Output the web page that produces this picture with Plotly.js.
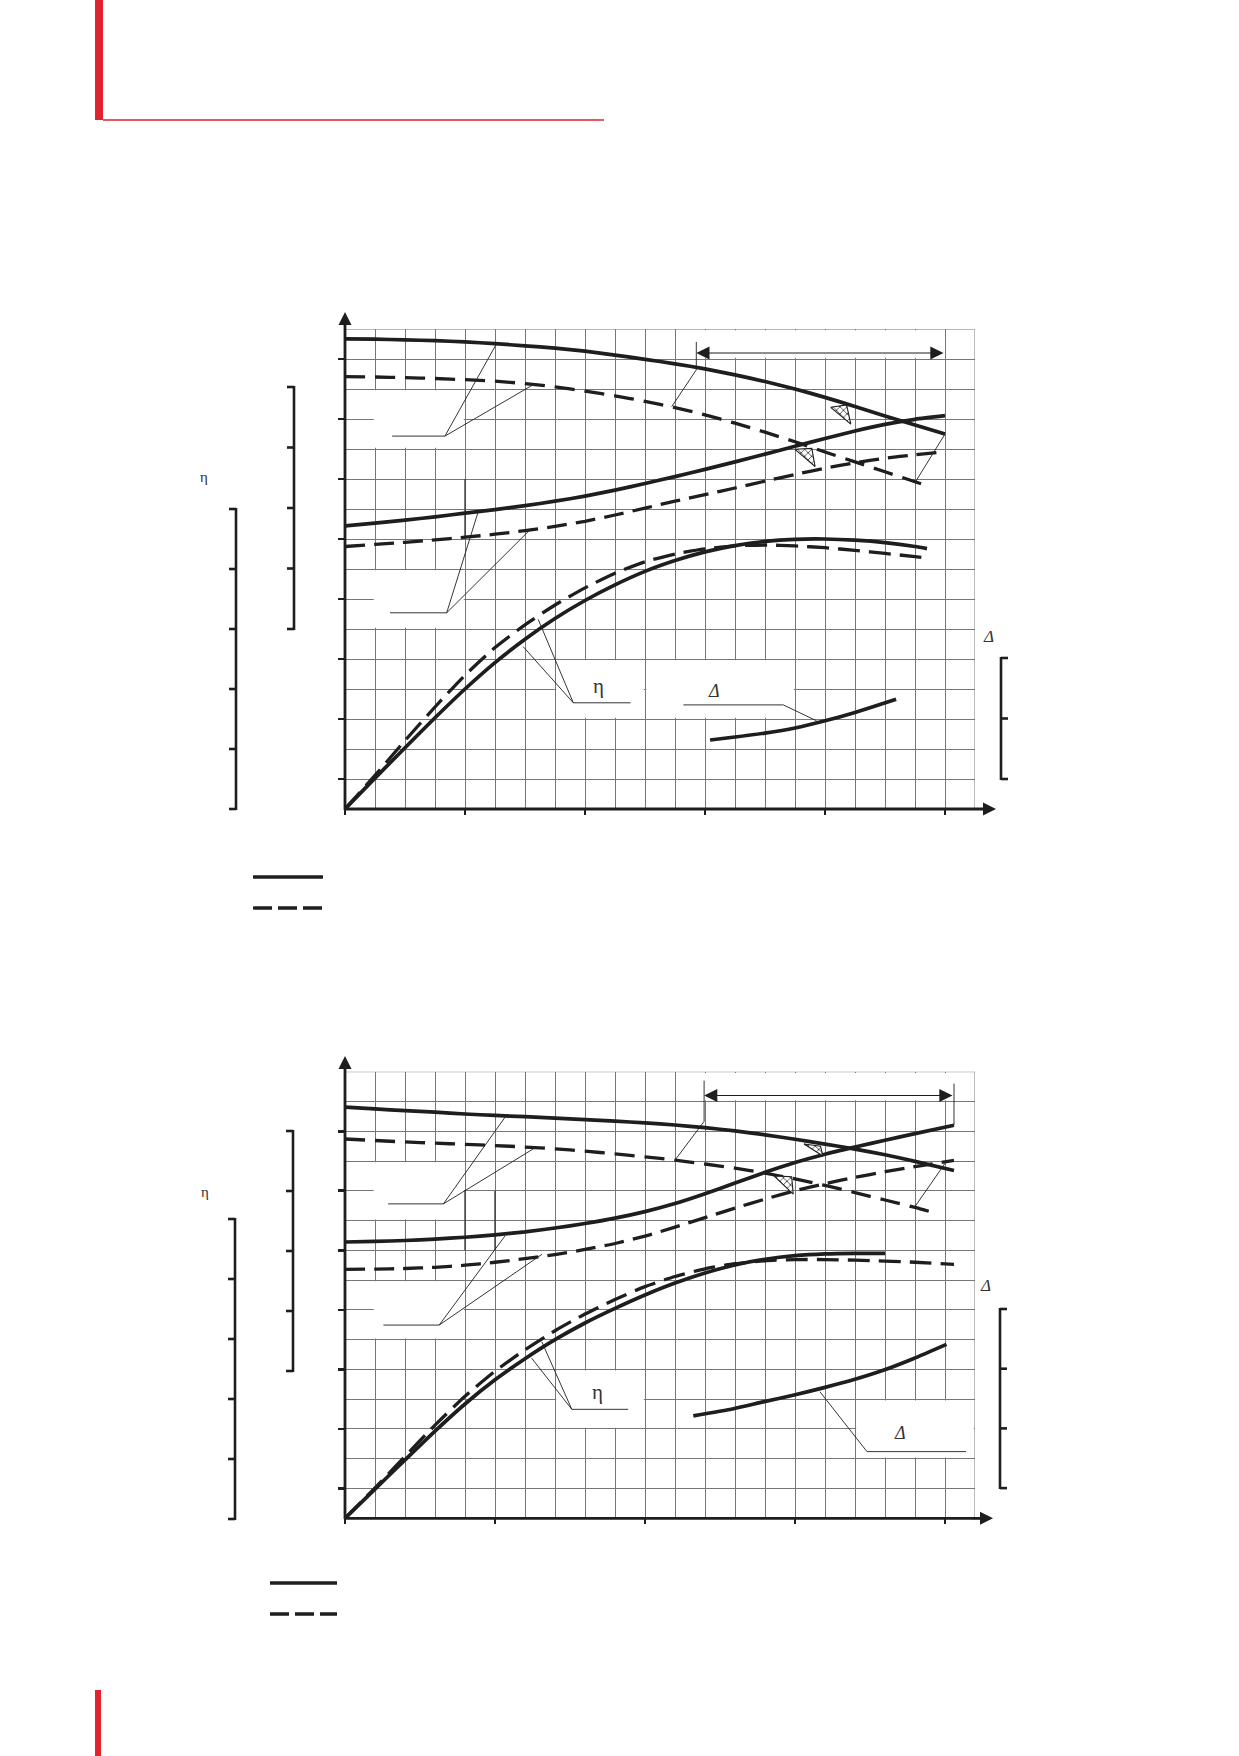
<!DOCTYPE html>
<html lang="ru">
<head>
<meta charset="utf-8">
<title>Характеристики насоса</title>
<script src="https://cdn.plot.ly/plotly-3.0.1.min.js"></script>
<style>
  html, body { margin: 0; padding: 0; background: #fff; }
  #chart { width: 1239px; height: 1756px; }
</style>
</head>
<body>
<div id="chart"></div>
<script>
// Константы
const CHART_ELEM_ID = "chart";
const PAGE_W = 1239;
const PAGE_H = 1756;
const INK = "#1e1e1e";
const GRID = "#767676";
const RED = "#e1232f";

// Данные (в клетках сетки: Q - по горизонтали, значение - по вертикали)

// Характеристика 1
const qH1a = [0, 1, 2, 3, 4, 5, 6, 7, 8, 9, 10, 11, 12, 13, 14, 15, 16, 17, 18, 19, 20];
const head1a = [15.67, 15.66, 15.64, 15.61, 15.57, 15.51, 15.44, 15.36, 15.26, 15.13, 14.99, 14.84, 14.67, 14.47, 14.25, 14.0, 13.72, 13.42, 13.1, 12.8, 12.5];
const qH1b = [0, 1, 2, 3, 4, 5, 6, 7, 8, 9, 10, 11, 12, 13, 14, 15, 16, 17, 18, 19, 19.5];
const head1b = [14.41, 14.4, 14.38, 14.35, 14.31, 14.26, 14.18, 14.07, 13.93, 13.77, 13.59, 13.38, 13.14, 12.86, 12.56, 12.24, 11.9, 11.57, 11.24, 10.91, 10.74];
const qN1 = [0, 1, 2, 3, 4, 5, 6, 7, 8, 9, 10, 11, 12, 13, 14, 15, 16, 17, 18, 19, 20];
const power1a = [9.44, 9.53, 9.63, 9.74, 9.86, 9.98, 10.11, 10.26, 10.43, 10.63, 10.85, 11.08, 11.32, 11.57, 11.83, 12.09, 12.35, 12.6, 12.82, 12.99, 13.11];
const power1b = [8.75, 8.82, 8.89, 8.97, 9.06, 9.16, 9.28, 9.42, 9.59, 9.8, 10.03, 10.26, 10.48, 10.7, 10.93, 11.15, 11.36, 11.54, 11.69, 11.81, 11.91];
const qE1 = [0, 1, 2, 3, 4, 5, 6, 7, 8, 9, 10, 11, 12, 13, 14, 15, 16, 17, 18, 19, 19.4];
const eff1a = [0, 1.03, 2.04, 3.04, 4.0, 4.88, 5.66, 6.35, 6.95, 7.47, 7.92, 8.28, 8.57, 8.78, 8.92, 8.99, 9.0, 8.96, 8.88, 8.75, 8.68];
const eff1b = [0, 1.12, 2.28, 3.4, 4.46, 5.38, 6.14, 6.8, 7.37, 7.86, 8.24, 8.5, 8.67, 8.77, 8.8, 8.77, 8.71, 8.62, 8.52, 8.41, 8.36];
const qD1 = [12.17, 13, 14, 15, 16, 17, 18.37];
const delta1 = [2.3, 2.4, 2.53, 2.7, 2.94, 3.22, 3.66];
const cavity1Q = [[16.19, 16.72, 16.86], [15.0, 15.56, 15.67]];
const cavity1H = [[13.39, 13.47, 12.83], [11.99, 12.02, 11.41]];

// Характеристика 2
const qH2a = [0, 1, 2, 3, 4, 5, 6, 7, 8, 9, 10, 11, 12, 13, 14, 15, 16, 17, 18, 19, 20.3];
const head2a = [13.81, 13.75, 13.69, 13.64, 13.58, 13.53, 13.49, 13.44, 13.39, 13.34, 13.28, 13.21, 13.12, 13.01, 12.88, 12.73, 12.57, 12.4, 12.21, 11.99, 11.68];
const qH2b = [0, 1, 2, 3, 4, 5, 6, 7, 8, 9, 10, 11, 12, 13, 14, 15, 16, 17, 18, 19, 19.64];
const head2b = [12.74, 12.69, 12.64, 12.6, 12.56, 12.52, 12.47, 12.41, 12.33, 12.24, 12.14, 12.03, 11.9, 11.76, 11.59, 11.4, 11.18, 10.94, 10.69, 10.44, 10.26];
const qN2 = [0, 1, 2, 3, 4, 5, 6, 7, 8, 9, 10, 11, 12, 13, 14, 15, 16, 17, 18, 19, 20.3];
const power2a = [9.28, 9.3, 9.33, 9.38, 9.44, 9.52, 9.62, 9.75, 9.9, 10.08, 10.3, 10.57, 10.9, 11.26, 11.62, 11.95, 12.23, 12.47, 12.7, 12.92, 13.2];
const power2b = [8.36, 8.37, 8.39, 8.43, 8.5, 8.6, 8.72, 8.86, 9.03, 9.23, 9.48, 9.78, 10.1, 10.42, 10.72, 11.0, 11.24, 11.45, 11.64, 11.81, 12.02];
const qE2a = [0, 1, 2, 3, 4, 5, 6, 7, 8, 9, 10, 11, 12, 13, 14, 15, 16, 17, 18];
const eff2a = [0, 0.98, 1.96, 2.93, 3.84, 4.65, 5.36, 6.0, 6.56, 7.05, 7.5, 7.9, 8.24, 8.51, 8.7, 8.82, 8.88, 8.9, 8.9];
const qE2b = [0, 1, 2, 3, 4, 5, 6, 7, 8, 9, 10, 11, 12, 13, 14, 15, 16, 17, 18, 19, 20.3];
const eff2b = [0, 1.02, 2.08, 3.13, 4.1, 4.94, 5.66, 6.3, 6.86, 7.35, 7.78, 8.12, 8.38, 8.55, 8.65, 8.69, 8.69, 8.67, 8.64, 8.6, 8.53];
const qD2 = [11.61, 12.95, 13.94, 14.97, 15.97, 16.97, 17.94, 18.94, 20.05];
const delta2 = [3.44, 3.68, 3.91, 4.14, 4.39, 4.66, 4.97, 5.36, 5.84];
const cavity2Q = [[15.3, 15.85, 15.93], [14.3, 14.89, 14.94]];
const cavity2H = [[12.57, 12.5, 12.17], [11.5, 11.47, 10.89]];

// Оформление: белые поля под подписи, выноски (в клетках сетки)
const blanks1 = [[0.96, 3.96, 12.04, 13.96], [0.96, 3.96, 6.04, 7.96], [7.04, 9.96, 3.04, 4.96], [10.04, 14.96, 3.04, 4.96], [11.04, 19.96, 15.04, 15.96]];
const blanks2 = [[0.96, 3.96, 10.04, 11.96], [0.96, 3.96, 6.04, 7.96], [7.04, 9.96, 3.04, 4.96], [17.04, 20.96, 2.04, 3.96], [11.04, 20.96, 14.04, 14.96]];
const darkLines1 = [[4, 9, 4, 11]];
const darkLines2 = [[4, 9, 4, 11], [5, 9, 5, 11]];
const leaders1 = [
  [[1.57, 12.43], [3.33, 12.43], [5.03, 15.47]],
  [[3.33, 12.43], [6.25, 14.13]],
  [[1.5, 6.54], [3.39, 6.54], [4.44, 9.91]],
  [[3.39, 6.54], [6.22, 9.36]],
  [[9.52, 3.54], [7.61, 3.54], [5.94, 5.41]],
  [[7.61, 3.54], [6.44, 6.32]],
  [[11.28, 3.47], [14.61, 3.47], [15.72, 2.94]],
  [[11.71, 15.57], [11.71, 14.64], [10.89, 13.41]],
  [[20, 12.5], [19, 10.88]],
];
const leaders2 = [
  [[1.44, 10.56], [3.28, 10.56], [5.39, 13.55]],
  [[3.28, 10.56], [6.28, 12.41]],
  [[1.28, 6.49], [3.14, 6.49], [5.33, 9.48]],
  [[3.14, 6.49], [6.57, 8.87]],
  [[9.44, 3.66], [7.56, 3.66], [6.22, 5.38]],
  [[7.56, 3.66], [6.56, 5.93]],
  [[20.7, 2.24], [17.4, 2.24], [15.83, 4.25]],
  [[11.97, 14.7], [11.97, 13.33], [11.0, 12.03]],
  [[20.3, 14.6], [20.3, 13.21]],
  [[20.0, 11.92], [19.0, 10.47]],
];

// Вспомогательные функции

/**
 * @description Пиксели страницы -> доли paper
 */
function pxX(x) {
  return x / PAGE_W;
}
function pxY(y) {
  return 1 - y / PAGE_H;
}

function paperLine(x0, y0, x1, y1, width, dash) {
  return {
    type: "line", xref: "paper", yref: "paper", layer: "above",
    x0: pxX(x0), y0: pxY(y0), x1: pxX(x1), y1: pxY(y1),
    line: { color: INK, width: width, dash: dash || "solid" },
  };
}

function paperRect(x0, y0, x1, y1, color) {
  return {
    type: "rect", xref: "paper", yref: "paper", layer: "above",
    x0: pxX(x0), y0: pxY(y0), x1: pxX(x1), y1: pxY(y1),
    fillcolor: color, line: { width: 0 },
  };
}

/**
 * @description Скобка шкалы с делениями (dir = -1 влево, 1 вправо)
 */
function bracket(x, yTop, yBottom, step, dir) {
  let res = [paperLine(x, yTop - 1, x, yBottom + 1, 2.6)];
  for (let y = yTop; y <= yBottom + 0.5; y += step) {
    res.push(paperLine(x, y, x + dir * 7, y, 2.6));
  }
  return res;
}

function blankRects(list, xr, yr) {
  return list.map((b) => ({
    type: "rect", xref: xr, yref: yr, layer: "between",
    x0: b[0], x1: b[1], y0: b[2], y1: b[3],
    fillcolor: "#ffffff", line: { width: 0 },
  }));
}

function dataLines(list, xr, yr, width, color) {
  return list.map((l) => ({
    type: "line", xref: xr, yref: yr, layer: "between",
    x0: l[0], y0: l[1], x1: l[2], y1: l[3],
    line: { color: color, width: width },
  }));
}

function leaderPaths(list, xr, yr) {
  return list.map((pts) => ({
    type: "path", xref: xr, yref: yr, layer: "above",
    path: pts.map((p, i) => (i === 0 ? "M" : "L") + p[0] + "," + p[1]).join(" "),
    line: { color: INK, width: 0.9 },
  }));
}

function curve(x, y, xa, ya, dash, width) {
  return {
    x: x, y: y, xaxis: xa, yaxis: ya,
    type: "scatter", mode: "lines",
    line: { color: INK, width: width || 3.7, dash: dash || "solid", shape: "spline", smoothing: 0.6 },
    hoverinfo: "skip", showlegend: false, cliponaxis: false,
  };
}

function hatch(qList, hList, xa, ya) {
  return qList.map((q, i) => ({
    x: q.concat([q[0]]), y: hList[i].concat([hList[i][0]]),
    xaxis: xa, yaxis: ya, type: "scatter", mode: "lines",
    fill: "toself", fillcolor: "#ffffff",
    fillpattern: { shape: "x", size: 5, solidity: 0.25, fgcolor: "#111", bgcolor: "#ffffff" },
    line: { color: INK, width: 1.1 },
    hoverinfo: "skip", showlegend: false,
  }));
}

function gridX(domain, anchor, major) {
  return {
    domain: domain, anchor: anchor, range: [0, 21],
    showline: false, zeroline: false, showticklabels: false, fixedrange: true,
    tickmode: "linear", tick0: 0, dtick: major,
    ticks: "outside", ticklen: 5, tickwidth: 2.2, tickcolor: INK,
    showgrid: true, gridcolor: GRID, gridwidth: 1,
    minor: { tickmode: "linear", tick0: 0, dtick: 1, showgrid: true, gridcolor: GRID, gridwidth: 1, ticks: "" },
  };
}

function gridY(domain, anchor, top) {
  let vals = [];
  for (let v = 1; v < top; v += 2) vals.push(v);
  return {
    domain: domain, anchor: anchor, range: [0, top],
    showline: false, zeroline: false, showticklabels: false, fixedrange: true,
    tickmode: "array", tickvals: vals,
    ticks: "outside", ticklen: 6, tickwidth: 2.6, tickcolor: INK,
    showgrid: true, gridcolor: GRID, gridwidth: 1,
    minor: { tickmode: "linear", tick0: 0, dtick: 1, showgrid: true, gridcolor: GRID, gridwidth: 1, ticks: "" },
  };
}

function arrowHead(x, y, ax, ay) {
  return {
    xref: "paper", yref: "paper", x: pxX(x), y: pxY(y), ax: ax, ay: ay,
    text: "", showarrow: true, arrowhead: 2, arrowsize: 1.3, arrowwidth: 2, arrowcolor: INK,
  };
}

function rangeArrow(xr, yr, q0, q1, v) {
  return {
    xref: xr, yref: yr, axref: xr, ayref: yr, x: q0, y: v, ax: q1, ay: v,
    text: "", showarrow: true, arrowside: "end+start",
    arrowhead: 2, arrowsize: 2.4, arrowwidth: 1.1, arrowcolor: INK,
  };
}

function label(text, x, y, xr, yr, size, italic) {
  return {
    xref: xr, yref: yr, x: x, y: y, text: text, showarrow: false,
    xanchor: "center", yanchor: "middle",
    font: { family: "Liberation Serif, DejaVu Serif, serif", size: size, color: "#333", style: italic ? "italic" : "normal" },
  };
}

// Трассы
let traces = [
  curve(qH1a, head1a, "x", "y"),
  curve(qH1b, head1b, "x", "y", "20px,10px", 3.3),
  curve(qN1, power1a, "x", "y"),
  curve(qN1, power1b, "x", "y", "20px,9px", 3.3),
  curve(qE1, eff1a, "x", "y"),
  curve(qE1, eff1b, "x", "y", "22px,9px", 3.3),
  curve(qD1, delta1, "x", "y"),
  curve(qH2a, head2a, "x2", "y2"),
  curve(qH2b, head2b, "x2", "y2", "20px,10px", 3.3),
  curve(qN2, power2a, "x2", "y2"),
  curve(qN2, power2b, "x2", "y2", "20px,9px", 3.3),
  curve(qE2a, eff2a, "x2", "y2"),
  curve(qE2b, eff2b, "x2", "y2", "22px,9px", 3.3),
  curve(qD2, delta2, "x2", "y2"),
].concat(hatch(cavity1Q, cavity1H, "x", "y"), hatch(cavity2Q, cavity2H, "x2", "y2"));

// Фигуры
let shapes = [
  // красное оформление страницы
  paperRect(95, 0, 103, 120, RED),
  { type: "line", xref: "paper", yref: "paper", x0: pxX(103), y0: pxY(120), x1: pxX(604), y1: pxY(120), line: { color: RED, width: 1.3 } },
  paperRect(95, 1690, 101, 1756, RED),
  // рамка сетки сверху и справа
  { type: "line", xref: "x", yref: "y", x0: 0, y0: 16, x1: 21, y1: 16, line: { color: GRID, width: 1 } },
  { type: "line", xref: "x", yref: "y", x0: 21, y0: 0, x1: 21, y1: 16, line: { color: GRID, width: 1 } },
  { type: "line", xref: "x2", yref: "y2", x0: 0, y0: 15, x1: 21, y1: 15, line: { color: GRID, width: 1 } },
  { type: "line", xref: "x2", yref: "y2", x0: 21, y0: 0, x1: 21, y1: 15, line: { color: GRID, width: 1 } },
  // оси
  paperLine(345, 810, 345, 320, 2.8),
  paperLine(344, 809, 988, 809, 2.8),
  paperLine(345, 1519, 345, 1064, 2.8),
  paperLine(344, 1518.3, 985, 1518.3, 2.8),
  // легенда
  paperLine(253, 877, 323, 877, 3.6),
  paperLine(253, 908, 323, 908, 3.3, "19px,6px"),
  paperLine(270, 1583, 337, 1583, 3.6),
  paperLine(270, 1614, 337, 1614, 3.3, "19px,6px"),
]
  .concat(blankRects(blanks1, "x", "y"), blankRects(blanks2, "x2", "y2"))
  .concat(dataLines(darkLines1, "x", "y", 1.3, "#333"), dataLines(darkLines2, "x2", "y2", 1.3, "#333"))
  .concat(leaderPaths(leaders1, "x", "y"), leaderPaths(leaders2, "x2", "y2"))
  .concat(bracket(294, 387, 629, 60.5, -1), bracket(236, 509, 809, 60, -1), bracket(1001, 658, 779, 60.5, 1))
  .concat(bracket(293, 1131, 1371, 60, -1), bracket(235, 1219, 1519, 60, -1), bracket(1000, 1309, 1488, 59.7, 1));

// Подписи и стрелки
let annotations = [
  arrowHead(345, 312, 0, 22),
  arrowHead(996, 809, -22, 0),
  arrowHead(345, 1056, 0, 22),
  arrowHead(993, 1518.3, -22, 0),
  rangeArrow("x", "y", 11.71, 20, 15.2),
  rangeArrow("x2", "y2", 11.97, 20.3, 14.2),
  label("η", pxX(204), pxY(477), "paper", "paper", 15),
  label("η", pxX(205), pxY(1192), "paper", "paper", 15),
  label("Δ", pxX(988), pxY(636), "paper", "paper", 17, true),
  label("Δ", pxX(985), pxY(1285), "paper", "paper", 17, true),
  label("η", 8.44, 4.1, "x", "y", 21),
  label("Δ", 12.3, 3.95, "x", "y", 18, true),
  label("η", 8.43, 4.25, "x2", "y2", 21),
  label("Δ", 18.5, 2.85, "x2", "y2", 18, true),
];

// График
const layout = {
  width: PAGE_W,
  height: PAGE_H,
  margin: { l: 0, r: 0, t: 0, b: 0, pad: 0 },
  paper_bgcolor: "#ffffff",
  plot_bgcolor: "#ffffff",
  showlegend: false,
  xaxis: gridX([pxX(345), pxX(975)], "y", 4),
  yaxis: gridY([pxY(809), pxY(329)], "x", 16),
  xaxis2: gridX([pxX(345), pxX(975)], "y2", 5),
  yaxis2: gridY([pxY(1518.3), pxY(1071.7)], "x2", 15),
  shapes: shapes,
  annotations: annotations,
};

const config = { staticPlot: true, responsive: false };

Plotly.newPlot(CHART_ELEM_ID, traces, layout, config);
</script>
</body>
</html>
